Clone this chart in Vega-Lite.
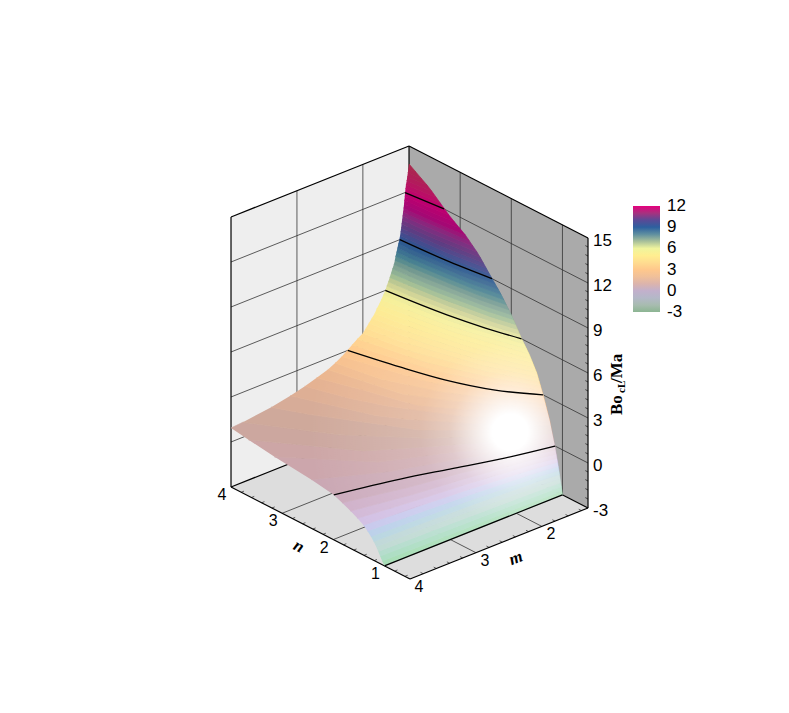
{"$schema":"https://vega.github.io/schema/vega-lite/v6.json","width":789,"height":713,"padding":0,"autosize":"none","background":"white","config":{"view":{"stroke":null}},
"datasets":{
"iso":[
{"l":-3,"s":0,"m":4,"n":1},{"l":-3,"s":1,"m":1.3,"n":1},
{"l":-2.75,"s":0,"m":4,"n":1.044},{"l":-2.75,"s":1,"m":3.2,"n":1.035},{"l":-2.75,"s":2,"m":2.5,"n":1.027},{"l":-2.75,"s":3,"m":2,"n":1.022},{"l":-2.75,"s":4,"m":1.58,"n":1.018},{"l":-2.75,"s":5,"m":1.3,"n":1.012},
{"l":-2.5,"s":0,"m":4,"n":1.085},{"l":-2.5,"s":1,"m":3.2,"n":1.07},{"l":-2.5,"s":2,"m":2.5,"n":1.054},{"l":-2.5,"s":3,"m":2,"n":1.044},{"l":-2.5,"s":4,"m":1.58,"n":1.035},{"l":-2.5,"s":5,"m":1.3,"n":1.023},
{"l":-2.25,"s":0,"m":4,"n":1.121},{"l":-2.25,"s":1,"m":3.2,"n":1.106},{"l":-2.25,"s":2,"m":2.5,"n":1.083},{"l":-2.25,"s":3,"m":2,"n":1.066},{"l":-2.25,"s":4,"m":1.58,"n":1.053},{"l":-2.25,"s":5,"m":1.3,"n":1.035},
{"l":-2,"s":0,"m":4,"n":1.16},{"l":-2,"s":1,"m":3.2,"n":1.143},{"l":-2,"s":2,"m":2.5,"n":1.117},{"l":-2,"s":3,"m":2,"n":1.091},{"l":-2,"s":4,"m":1.58,"n":1.07},{"l":-2,"s":5,"m":1.3,"n":1.046},
{"l":-1.75,"s":0,"m":4,"n":1.21},{"l":-1.75,"s":1,"m":3.2,"n":1.183},{"l":-1.75,"s":2,"m":2.5,"n":1.15},{"l":-1.75,"s":3,"m":2,"n":1.118},{"l":-1.75,"s":4,"m":1.58,"n":1.091},{"l":-1.75,"s":5,"m":1.3,"n":1.058},
{"l":-1.5,"s":0,"m":4,"n":1.264},{"l":-1.5,"s":1,"m":3.2,"n":1.225},{"l":-1.5,"s":2,"m":2.5,"n":1.188},{"l":-1.5,"s":3,"m":2,"n":1.145},{"l":-1.5,"s":4,"m":1.58,"n":1.112},{"l":-1.5,"s":5,"m":1.3,"n":1.07},
{"l":-1.25,"s":0,"m":4,"n":1.331},{"l":-1.25,"s":1,"m":3.2,"n":1.276},{"l":-1.25,"s":2,"m":2.5,"n":1.227},{"l":-1.25,"s":3,"m":2,"n":1.177},{"l":-1.25,"s":4,"m":1.58,"n":1.133},{"l":-1.25,"s":5,"m":1.3,"n":1.083},
{"l":-1,"s":0,"m":4,"n":1.411},{"l":-1,"s":1,"m":3.2,"n":1.341},{"l":-1,"s":2,"m":2.5,"n":1.272},{"l":-1,"s":3,"m":2,"n":1.21},{"l":-1,"s":4,"m":1.58,"n":1.155},{"l":-1,"s":5,"m":1.3,"n":1.096},
{"l":-0.75,"s":0,"m":4,"n":1.527},{"l":-0.75,"s":1,"m":3.2,"n":1.41},{"l":-0.75,"s":2,"m":2.5,"n":1.326},{"l":-0.75,"s":3,"m":2,"n":1.243},{"l":-0.75,"s":4,"m":1.58,"n":1.18},{"l":-0.75,"s":5,"m":1.3,"n":1.109},
{"l":-0.5,"s":0,"m":4,"n":1.663},{"l":-0.5,"s":1,"m":3.2,"n":1.485},{"l":-0.5,"s":2,"m":2.5,"n":1.38},{"l":-0.5,"s":3,"m":2,"n":1.283},{"l":-0.5,"s":4,"m":1.58,"n":1.205},{"l":-0.5,"s":5,"m":1.3,"n":1.122},
{"l":-0.25,"s":0,"m":4,"n":1.828},{"l":-0.25,"s":1,"m":3.2,"n":1.6},{"l":-0.25,"s":2,"m":2.5,"n":1.455},{"l":-0.25,"s":3,"m":2,"n":1.323},{"l":-0.25,"s":4,"m":1.58,"n":1.23},{"l":-0.25,"s":5,"m":1.3,"n":1.136},
{"l":0,"s":0,"m":4,"n":2},{"l":0,"s":1,"m":3.2,"n":1.763},{"l":0,"s":2,"m":2.5,"n":1.543},{"l":0,"s":3,"m":2,"n":1.364},{"l":0,"s":4,"m":1.58,"n":1.257},{"l":0,"s":5,"m":1.3,"n":1.149},
{"l":0.25,"s":0,"m":4,"n":2.425},{"l":0.25,"s":1,"m":3.2,"n":1.933},{"l":0.25,"s":2,"m":2.5,"n":1.65},{"l":0.25,"s":3,"m":2,"n":1.42},{"l":0.25,"s":4,"m":1.58,"n":1.293},{"l":0.25,"s":5,"m":1.3,"n":1.165},
{"l":0.5,"s":0,"m":4,"n":3.15},{"l":0.5,"s":1,"m":3.2,"n":2.15},{"l":0.5,"s":2,"m":2.5,"n":1.775},{"l":0.5,"s":3,"m":2,"n":1.487},{"l":0.5,"s":4,"m":1.58,"n":1.329},{"l":0.5,"s":5,"m":1.3,"n":1.182},
{"l":0.75,"s":0,"m":4,"n":3.657},{"l":0.75,"s":1,"m":3.2,"n":2.433},{"l":0.75,"s":2,"m":2.5,"n":1.914},{"l":0.75,"s":3,"m":2,"n":1.567},{"l":0.75,"s":4,"m":1.58,"n":1.366},{"l":0.75,"s":5,"m":1.3,"n":1.198},
{"l":1,"s":-1,"m":4,"n":4,"z":0.93},{"l":1,"s":0,"m":3.82,"n":4},{"l":1,"s":1,"m":3.2,"n":2.9},{"l":1,"s":2,"m":2.5,"n":2.067},{"l":1,"s":3,"m":2,"n":1.65},{"l":1,"s":4,"m":1.58,"n":1.408},{"l":1,"s":5,"m":1.3,"n":1.214},
{"l":1.25,"s":0,"m":3.39,"n":4},{"l":1.25,"s":1,"m":3.2,"n":3.547},{"l":1.25,"s":2,"m":2.5,"n":2.245},{"l":1.25,"s":3,"m":2,"n":1.744},{"l":1.25,"s":4,"m":1.58,"n":1.454},{"l":1.25,"s":5,"m":1.3,"n":1.231},
{"l":1.5,"s":0,"m":3.1,"n":4},{"l":1.5,"s":1,"m":2.7,"n":2.85},{"l":1.5,"s":2,"m":2.5,"n":2.51},{"l":1.5,"s":3,"m":2,"n":1.844},{"l":1.5,"s":4,"m":1.58,"n":1.5},{"l":1.5,"s":5,"m":1.3,"n":1.247},
{"l":1.75,"s":0,"m":2.88,"n":4},{"l":1.75,"s":1,"m":2.7,"n":3.365},{"l":1.75,"s":2,"m":2.5,"n":2.858},{"l":1.75,"s":3,"m":2,"n":1.956},{"l":1.75,"s":4,"m":1.58,"n":1.563},{"l":1.75,"s":5,"m":1.3,"n":1.269},
{"l":2,"s":0,"m":2.7,"n":4},{"l":2,"s":1,"m":2.5,"n":3.305},{"l":2,"s":2,"m":2.3,"n":2.55},{"l":2,"s":3,"m":2,"n":2.1},{"l":2,"s":4,"m":1.58,"n":1.625},{"l":2,"s":5,"m":1.3,"n":1.291},
{"l":2.25,"s":0,"m":2.53,"n":4},{"l":2.25,"s":1,"m":2.3,"n":2.84},{"l":2.25,"s":2,"m":2,"n":2.28},{"l":2.25,"s":3,"m":1.58,"n":1.687},{"l":2.25,"s":4,"m":1.3,"n":1.313},
{"l":2.5,"s":0,"m":2.42,"n":4},{"l":2.5,"s":1,"m":2.3,"n":3.267},{"l":2.5,"s":2,"m":2,"n":2.483},{"l":2.5,"s":3,"m":1.58,"n":1.75},{"l":2.5,"s":4,"m":1.3,"n":1.335},
{"l":2.75,"s":0,"m":2.32,"n":4},{"l":2.75,"s":1,"m":2,"n":2.7},{"l":2.75,"s":2,"m":1.58,"n":1.814},{"l":2.75,"s":3,"m":1.3,"n":1.358},
{"l":3,"s":0,"m":2.24,"n":4},{"l":3,"s":1,"m":2,"n":2.958},{"l":3,"s":2,"m":1.88,"n":2.517},{"l":3,"s":3,"m":1.58,"n":1.886},{"l":3,"s":4,"m":1.3,"n":1.38},
{"l":3.25,"s":0,"m":2.165,"n":4},{"l":3.25,"s":1,"m":2,"n":3.253},{"l":3.25,"s":2,"m":1.88,"n":2.712},{"l":3.25,"s":3,"m":1.58,"n":1.957},{"l":3.25,"s":4,"m":1.3,"n":1.405},
{"l":3.5,"s":0,"m":2.085,"n":4},{"l":3.5,"s":1,"m":2,"n":3.587},{"l":3.5,"s":2,"m":1.88,"n":2.91},{"l":3.5,"s":3,"m":1.58,"n":2.034},{"l":3.5,"s":4,"m":1.3,"n":1.429},
{"l":3.75,"s":0,"m":2,"n":4},{"l":3.75,"s":1,"m":1.88,"n":3.15},{"l":3.75,"s":2,"m":1.58,"n":2.121},{"l":3.75,"s":3,"m":1.3,"n":1.454},
{"l":4,"s":0,"m":1.955,"n":4},{"l":4,"s":1,"m":1.88,"n":3.44},{"l":4,"s":2,"m":1.58,"n":2.208},{"l":4,"s":3,"m":1.3,"n":1.478},
{"l":4.25,"s":0,"m":1.91,"n":4},{"l":4.25,"s":1,"m":1.76,"n":3.054},{"l":4.25,"s":2,"m":1.58,"n":2.302},{"l":4.25,"s":3,"m":1.3,"n":1.504},
{"l":4.5,"s":0,"m":1.865,"n":4},{"l":4.5,"s":1,"m":1.76,"n":3.257},{"l":4.5,"s":2,"m":1.58,"n":2.396},{"l":4.5,"s":3,"m":1.3,"n":1.542},
{"l":4.75,"s":0,"m":1.82,"n":4},{"l":4.75,"s":1,"m":1.76,"n":3.495},{"l":4.75,"s":2,"m":1.58,"n":2.509},{"l":4.75,"s":3,"m":1.3,"n":1.579},
{"l":5,"s":0,"m":1.79,"n":4},{"l":5,"s":1,"m":1.66,"n":3.086},{"l":5,"s":2,"m":1.58,"n":2.623},{"l":5,"s":3,"m":1.3,"n":1.616},
{"l":5.25,"s":0,"m":1.754,"n":4},{"l":5.25,"s":1,"m":1.66,"n":3.278},{"l":5.25,"s":2,"m":1.58,"n":2.756},{"l":5.25,"s":3,"m":1.3,"n":1.654},
{"l":5.5,"s":0,"m":1.72,"n":4},{"l":5.5,"s":1,"m":1.66,"n":3.496},{"l":5.5,"s":2,"m":1.58,"n":2.894},{"l":5.5,"s":3,"m":1.5,"n":2.519},{"l":5.5,"s":4,"m":1.3,"n":1.703},
{"l":5.75,"s":0,"m":1.69,"n":4},{"l":5.75,"s":1,"m":1.58,"n":3.053},{"l":5.75,"s":2,"m":1.5,"n":2.615},{"l":5.75,"s":3,"m":1.3,"n":1.751},
{"l":6,"s":0,"m":1.66,"n":4},{"l":6,"s":1,"m":1.58,"n":3.216},{"l":6,"s":2,"m":1.5,"n":2.723},{"l":6,"s":3,"m":1.3,"n":1.8},
{"l":6.25,"s":0,"m":1.638,"n":4},{"l":6.25,"s":1,"m":1.58,"n":3.416},{"l":6.25,"s":2,"m":1.5,"n":2.836},{"l":6.25,"s":3,"m":1.38,"n":2.153},{"l":6.25,"s":4,"m":1.3,"n":1.84},
{"l":6.5,"s":0,"m":1.615,"n":4},{"l":6.5,"s":1,"m":1.58,"n":3.62},{"l":6.5,"s":2,"m":1.5,"n":2.958},{"l":6.5,"s":3,"m":1.38,"n":2.214},{"l":6.5,"s":4,"m":1.3,"n":1.88},
{"l":6.75,"s":0,"m":1.593,"n":4},{"l":6.75,"s":1,"m":1.5,"n":3.09},{"l":6.75,"s":2,"m":1.38,"n":2.286},{"l":6.75,"s":3,"m":1.3,"n":1.92},
{"l":7,"s":0,"m":1.573,"n":4},{"l":7,"s":1,"m":1.5,"n":3.226},{"l":7,"s":2,"m":1.38,"n":2.357},{"l":7,"s":3,"m":1.3,"n":1.96},
{"l":7.25,"s":0,"m":1.552,"n":4},{"l":7.25,"s":1,"m":1.5,"n":3.387},{"l":7.25,"s":2,"m":1.38,"n":2.427},{"l":7.25,"s":3,"m":1.3,"n":2},
{"l":7.5,"s":0,"m":1.53,"n":4},{"l":7.5,"s":1,"m":1.5,"n":3.548},{"l":7.5,"s":2,"m":1.38,"n":2.495},{"l":7.5,"s":3,"m":1.3,"n":2.05},
{"l":7.75,"s":0,"m":1.515,"n":4},{"l":7.75,"s":1,"m":1.43,"n":3.024},{"l":7.75,"s":2,"m":1.38,"n":2.563},{"l":7.75,"s":3,"m":1.3,"n":2.1},
{"l":8,"s":0,"m":1.505,"n":4},{"l":8,"s":1,"m":1.43,"n":3.143},{"l":8,"s":2,"m":1.38,"n":2.631},{"l":8,"s":3,"m":1.3,"n":2.149},
{"l":8.25,"s":0,"m":1.49,"n":4},{"l":8.25,"s":1,"m":1.43,"n":3.274},{"l":8.25,"s":2,"m":1.38,"n":2.708},{"l":8.25,"s":3,"m":1.3,"n":2.2},
{"l":8.5,"s":0,"m":1.476,"n":4},{"l":8.5,"s":1,"m":1.43,"n":3.417},{"l":8.5,"s":2,"m":1.38,"n":2.79},{"l":8.5,"s":3,"m":1.3,"n":2.257},
{"l":8.75,"s":0,"m":1.463,"n":4},{"l":8.75,"s":1,"m":1.43,"n":3.56},{"l":8.75,"s":2,"m":1.38,"n":2.871},{"l":8.75,"s":3,"m":1.3,"n":2.317},
{"l":9,"s":0,"m":1.449,"n":4},{"l":9,"s":1,"m":1.38,"n":2.968},{"l":9,"s":2,"m":1.3,"n":2.376},
{"l":9.25,"s":0,"m":1.436,"n":4},{"l":9.25,"s":1,"m":1.38,"n":3.073},{"l":9.25,"s":2,"m":1.3,"n":2.434},
{"l":9.5,"s":0,"m":1.427,"n":4},{"l":9.5,"s":1,"m":1.38,"n":3.179},{"l":9.5,"s":2,"m":1.3,"n":2.492},
{"l":9.75,"s":0,"m":1.42,"n":4},{"l":9.75,"s":1,"m":1.38,"n":3.294},{"l":9.75,"s":2,"m":1.3,"n":2.549},
{"l":10,"s":0,"m":1.412,"n":4},{"l":10,"s":1,"m":1.38,"n":3.412},{"l":10,"s":2,"m":1.3,"n":2.606},
{"l":10.25,"s":0,"m":1.405,"n":4},{"l":10.25,"s":1,"m":1.38,"n":3.529},{"l":10.25,"s":2,"m":1.3,"n":2.669},
{"l":10.5,"s":0,"m":1.397,"n":4},{"l":10.5,"s":1,"m":1.38,"n":3.657},{"l":10.5,"s":2,"m":1.3,"n":2.746},
{"l":10.75,"s":0,"m":1.39,"n":4},{"l":10.75,"s":1,"m":1.38,"n":3.8},{"l":10.75,"s":2,"m":1.3,"n":2.823},
{"l":11,"s":0,"m":1.382,"n":4},{"l":11,"s":1,"m":1.34,"n":3.278},{"l":11,"s":2,"m":1.3,"n":2.9},
{"l":11.25,"s":0,"m":1.376,"n":4},{"l":11.25,"s":1,"m":1.34,"n":3.376},{"l":11.25,"s":2,"m":1.3,"n":3.007},
{"l":11.5,"s":0,"m":1.371,"n":4},{"l":11.5,"s":1,"m":1.34,"n":3.475},{"l":11.5,"s":2,"m":1.3,"n":3.114},
{"l":11.75,"s":0,"m":1.364,"n":4},{"l":11.75,"s":1,"m":1.34,"n":3.573},{"l":11.75,"s":2,"m":1.3,"n":3.217},
{"l":12,"s":0,"m":1.36,"n":4},{"l":12,"s":1,"m":1.34,"n":3.692},{"l":12,"s":2,"m":1.3,"n":3.3},
{"l":12.25,"s":0,"m":1.353,"n":4},{"l":12.25,"s":1,"m":1.3,"n":3.383},
{"l":12.5,"s":0,"m":1.347,"n":4},{"l":12.5,"s":1,"m":1.3,"n":3.467},
{"l":12.75,"s":0,"m":1.335,"n":4},{"l":12.75,"s":1,"m":1.3,"n":3.55},
{"l":13,"s":0,"m":1.327,"n":4},{"l":13,"s":1,"m":1.3,"n":3.644},
{"l":13.25,"s":0,"m":1.318,"n":4},{"l":13.25,"s":1,"m":1.3,"n":3.756},
{"l":13.5,"s":0,"m":1.31,"n":4},{"l":13.5,"s":1,"m":1.3,"n":3.867},
{"l":13.75,"s":0,"m":1.302,"n":4},{"l":13.75,"s":1,"m":1.3,"n":3.978},
{"l":14,"s":0,"m":1.3,"n":4,"z":13.8}
],
"edge":[
{"m":1.3,"n":1,"z":-3},{"m":4,"n":1,"z":-3},
{"m":4,"n":1.07,"z":-2.6},{"m":4,"n":1.15,"z":-2.05},{"m":4,"n":1.25,"z":-1.55},{"m":4,"n":1.38,"z":-1.07},{"m":4,"n":1.5,"z":-0.8},{"m":4,"n":1.65,"z":-0.52},{"m":4,"n":1.8,"z":-0.29},{"m":4,"n":2,"z":0},{"m":4,"n":2.2,"z":0.14},{"m":4,"n":2.4,"z":0.24},{"m":4,"n":2.65,"z":0.34},{"m":4,"n":2.9,"z":0.4},{"m":4,"n":3.2,"z":0.52},{"m":4,"n":3.6,"z":0.72},{"m":4,"n":4,"z":0.93},
{"m":3.7,"n":4,"z":1.05},{"m":3.45,"n":4,"z":1.2},{"m":3.2,"n":4,"z":1.4},{"m":2.95,"n":4,"z":1.65},{"m":2.7,"n":4,"z":2},{"m":2.5,"n":4,"z":2.3},{"m":2.3,"n":4,"z":2.8},{"m":2.15,"n":4,"z":3.3},{"m":2,"n":4,"z":3.76},{"m":1.88,"n":4,"z":4.4},{"m":1.76,"n":4,"z":5.2},{"m":1.66,"n":4,"z":6},{"m":1.58,"n":4,"z":6.9},{"m":1.5,"n":4,"z":8.1},{"m":1.43,"n":4,"z":9.4},{"m":1.38,"n":4,"z":11.1},{"m":1.34,"n":4,"z":12.6},{"m":1.3,"n":4,"z":13.8},
{"m":1.3,"n":3.6,"z":12.9},{"m":1.3,"n":3.2,"z":11.7},{"m":1.3,"n":2.9,"z":11},{"m":1.3,"n":2.65,"z":10.19},{"m":1.3,"n":2.4,"z":9.1},{"m":1.3,"n":2.2,"z":8.26},{"m":1.3,"n":2,"z":7.25},{"m":1.3,"n":1.8,"z":6},{"m":1.3,"n":1.65,"z":5.23},{"m":1.3,"n":1.5,"z":4.22},{"m":1.3,"n":1.38,"z":3},{"m":1.3,"n":1.25,"z":1.54},{"m":1.3,"n":1.15,"z":0.02},{"m":1.3,"n":1.07,"z":-1.49}
],
"walls":[
{"w":"L","o":0,"m":1.3,"n":4,"z":-3},{"w":"L","o":1,"m":4,"n":4,"z":-3},{"w":"L","o":2,"m":4,"n":4,"z":15},{"w":"L","o":3,"m":1.3,"n":4,"z":15},
{"w":"R","o":0,"m":1.3,"n":0.5,"z":-3},{"w":"R","o":1,"m":1.3,"n":4,"z":-3},{"w":"R","o":2,"m":1.3,"n":4,"z":15},{"w":"R","o":3,"m":1.3,"n":0.5,"z":15},
{"w":"F","o":0,"m":1.3,"n":0.5,"z":-3},{"w":"F","o":1,"m":4,"n":0.5,"z":-3},{"w":"F","o":2,"m":4,"n":4,"z":-3},{"w":"F","o":3,"m":1.3,"n":4,"z":-3}
],
"grid":[
{"g":"L0","m":1.3,"n":4,"z":0},{"g":"L0","m":4,"n":4,"z":0},{"g":"L3","m":1.3,"n":4,"z":3},{"g":"L3","m":4,"n":4,"z":3},{"g":"L6","m":1.3,"n":4,"z":6},{"g":"L6","m":4,"n":4,"z":6},{"g":"L9","m":1.3,"n":4,"z":9},{"g":"L9","m":4,"n":4,"z":9},{"g":"L12","m":1.3,"n":4,"z":12},{"g":"L12","m":4,"n":4,"z":12},
{"g":"Lm2","m":2,"n":4,"z":-3},{"g":"Lm2","m":2,"n":4,"z":15},{"g":"Lm3","m":3,"n":4,"z":-3},{"g":"Lm3","m":3,"n":4,"z":15},
{"g":"R0","m":1.3,"n":0.5,"z":0},{"g":"R0","m":1.3,"n":4,"z":0},{"g":"R3","m":1.3,"n":0.5,"z":3},{"g":"R3","m":1.3,"n":4,"z":3},{"g":"R6","m":1.3,"n":0.5,"z":6},{"g":"R6","m":1.3,"n":4,"z":6},{"g":"R9","m":1.3,"n":0.5,"z":9},{"g":"R9","m":1.3,"n":4,"z":9},{"g":"R12","m":1.3,"n":0.5,"z":12},{"g":"R12","m":1.3,"n":4,"z":12},
{"g":"Rn1","m":1.3,"n":1,"z":-3},{"g":"Rn1","m":1.3,"n":1,"z":15},{"g":"Rn2","m":1.3,"n":2,"z":-3},{"g":"Rn2","m":1.3,"n":2,"z":15},{"g":"Rn3","m":1.3,"n":3,"z":-3},{"g":"Rn3","m":1.3,"n":3,"z":15},
{"g":"Fm2","m":2,"n":0.5,"z":-3},{"g":"Fm2","m":2,"n":4,"z":-3},{"g":"Fm3","m":3,"n":0.5,"z":-3},{"g":"Fm3","m":3,"n":4,"z":-3},{"g":"Fn2","m":1.3,"n":2,"z":-3},{"g":"Fn2","m":4,"n":2,"z":-3},{"g":"Fn3","m":1.3,"n":3,"z":-3},{"g":"Fn3","m":4,"n":3,"z":-3}
],
"frame":[
{"g":"V1","m":4,"n":4,"z":-3},{"g":"V1","m":4,"n":4,"z":15},{"g":"V2","m":1.3,"n":4,"z":-3},{"g":"V2","m":1.3,"n":4,"z":15},{"g":"V3","m":1.3,"n":0.5,"z":-3},{"g":"V3","m":1.3,"n":0.5,"z":15},
{"g":"T1","m":4,"n":4,"z":15},{"g":"T1","m":1.3,"n":4,"z":15},{"g":"T2","m":1.3,"n":4,"z":15},{"g":"T2","m":1.3,"n":0.5,"z":15},
{"g":"B1","m":4,"n":4,"z":-3},{"g":"B1","m":4,"n":0.5,"z":-3},{"g":"B2","m":4,"n":0.5,"z":-3},{"g":"B2","m":1.3,"n":0.5,"z":-3},{"g":"B3","m":4,"n":4,"z":-3},{"g":"B3","m":1.3,"n":4,"z":-3},{"g":"B4","m":1.3,"n":4,"z":-3},{"g":"B4","m":1.3,"n":0.5,"z":-3}
],
"contours":[
{"l":0,"s":0,"m":4,"n":1.99,"z":0},{"l":0,"s":1,"m":3.17,"n":1.76,"z":0},{"l":0,"s":2,"m":2.58,"n":1.55,"z":0},{"l":0,"s":3,"m":1.99,"n":1.336,"z":0},{"l":0,"s":4,"m":1.3,"n":1.145,"z":0},
{"l":3,"s":0,"m":2.23,"n":4,"z":3},{"l":3,"s":1,"m":2.06,"n":3.2,"z":3},{"l":3,"s":2,"m":1.89,"n":2.54,"z":3},{"l":3,"s":3,"m":1.63,"n":1.89,"z":3},{"l":3,"s":4,"m":1.3,"n":1.38,"z":3},
{"l":6,"s":0,"m":1.66,"n":4,"z":6},{"l":6,"s":1,"m":1.54,"n":2.95,"z":6},{"l":6,"s":2,"m":1.43,"n":2.34,"z":6},{"l":6,"s":3,"m":1.3,"n":1.8,"z":6},
{"l":9,"s":0,"m":1.44,"n":4,"z":9},{"l":9,"s":1,"m":1.39,"n":3.18,"z":9},{"l":9,"s":2,"m":1.3,"n":2.377,"z":9},
{"l":12,"s":0,"m":1.36,"n":4,"z":12},{"l":12,"s":1,"m":1.3,"n":3.316,"z":12}
],
"bottom":[{"m":1.3,"n":1,"z":-3},{"m":4,"n":1,"z":-3}],
"ticks":[
{"a":"z","m":1.3,"n":0.5,"z":-2.4},{"a":"z","m":1.3,"n":0.5,"z":-1.8},{"a":"z","m":1.3,"n":0.5,"z":-1.2},{"a":"z","m":1.3,"n":0.5,"z":-0.6},{"a":"z","m":1.3,"n":0.5,"z":0.6},{"a":"z","m":1.3,"n":0.5,"z":1.2},{"a":"z","m":1.3,"n":0.5,"z":1.8},{"a":"z","m":1.3,"n":0.5,"z":2.4},{"a":"z","m":1.3,"n":0.5,"z":3.6},{"a":"z","m":1.3,"n":0.5,"z":4.2},{"a":"z","m":1.3,"n":0.5,"z":4.8},{"a":"z","m":1.3,"n":0.5,"z":5.4},{"a":"z","m":1.3,"n":0.5,"z":6.6},{"a":"z","m":1.3,"n":0.5,"z":7.2},{"a":"z","m":1.3,"n":0.5,"z":7.8},{"a":"z","m":1.3,"n":0.5,"z":8.4},{"a":"z","m":1.3,"n":0.5,"z":9.6},{"a":"z","m":1.3,"n":0.5,"z":10.2},{"a":"z","m":1.3,"n":0.5,"z":10.8},{"a":"z","m":1.3,"n":0.5,"z":11.4},{"a":"z","m":1.3,"n":0.5,"z":12.6},{"a":"z","m":1.3,"n":0.5,"z":13.2},{"a":"z","m":1.3,"n":0.5,"z":13.8},{"a":"z","m":1.3,"n":0.5,"z":14.4},
{"a":"m","m":1.4,"n":0.5,"z":-3},{"a":"m","m":1.6,"n":0.5,"z":-3},{"a":"m","m":1.8,"n":0.5,"z":-3},{"a":"m","m":2.2,"n":0.5,"z":-3},{"a":"m","m":2.4,"n":0.5,"z":-3},{"a":"m","m":2.6,"n":0.5,"z":-3},{"a":"m","m":2.8,"n":0.5,"z":-3},{"a":"m","m":3.2,"n":0.5,"z":-3},{"a":"m","m":3.4,"n":0.5,"z":-3},{"a":"m","m":3.6,"n":0.5,"z":-3},{"a":"m","m":3.8,"n":0.5,"z":-3},
{"a":"n","m":4,"n":0.6,"z":-3},{"a":"n","m":4,"n":0.8,"z":-3},{"a":"n","m":4,"n":1.2,"z":-3},{"a":"n","m":4,"n":1.4,"z":-3},{"a":"n","m":4,"n":1.6,"z":-3},{"a":"n","m":4,"n":1.8,"z":-3},{"a":"n","m":4,"n":2.2,"z":-3},{"a":"n","m":4,"n":2.4,"z":-3},{"a":"n","m":4,"n":2.6,"z":-3},{"a":"n","m":4,"n":2.8,"z":-3},{"a":"n","m":4,"n":3.2,"z":-3},{"a":"n","m":4,"n":3.4,"z":-3},{"a":"n","m":4,"n":3.6,"z":-3},{"a":"n","m":4,"n":3.8,"z":-3}
]
},
"layer":[
{"data":{"name":"walls"},"transform":[{"calculate":"410-(datum.n-0.5)*51.14-(datum.m-4)*65.93","as":"sx"},{"calculate":"579-(datum.n-0.5)*26.29+(datum.m-4)*26.3-15*(datum.z+3)","as":"sy"}],
"mark":{"type":"line","strokeWidth":0},
"encoding":{"x":{"field":"sx","type":"quantitative","scale":{"domain":[0,789],"nice":false,"zero":false},"axis":null},"y":{"field":"sy","type":"quantitative","scale":{"domain":[713,0],"nice":false,"zero":false},"axis":null},"order":{"field":"o"},"detail":{"field":"w"},"fill":{"field":"w","type":"nominal","scale":{"domain":["L","R","F"],"range":["#eeeeee","#aaaaaa","#dddddd"]},"legend":null}}},
{"data":{"name":"grid"},"transform":[{"calculate":"410-(datum.n-0.5)*51.14-(datum.m-4)*65.93","as":"sx"},{"calculate":"579-(datum.n-0.5)*26.29+(datum.m-4)*26.3-15*(datum.z+3)","as":"sy"}],
"mark":{"type":"line","stroke":"#333333","strokeWidth":0.8},
"encoding":{"x":{"field":"sx","type":"quantitative"},"y":{"field":"sy","type":"quantitative"},"detail":{"field":"g"}}},
{"data":{"name":"frame"},"transform":[{"calculate":"410-(datum.n-0.5)*51.14-(datum.m-4)*65.93","as":"sx"},{"calculate":"579-(datum.n-0.5)*26.29+(datum.m-4)*26.3-15*(datum.z+3)","as":"sy"}],
"mark":{"type":"line","stroke":"#000000","strokeWidth":1.2},
"encoding":{"x":{"field":"sx","type":"quantitative"},"y":{"field":"sy","type":"quantitative"},"detail":{"field":"g"}}},
{"data":{"name":"iso"},"transform":[
{"calculate":"[0,1]","as":"c"},{"flatten":["c"]},
{"filter":"(datum.c==0&&datum.l<14&&datum.s>=0)||(datum.c==1&&datum.l>-3)"},
{"calculate":"datum.c==0?datum.l:datum.l-0.25","as":"b"},
{"calculate":"datum.c==0?datum.s:100-datum.s","as":"o"},
{"calculate":"datum.b+0.125","as":"zc"},
{"calculate":"isValid(datum.z)?datum.z:datum.l","as":"zz"},
{"calculate":"410-(datum.n-0.5)*51.14-(datum.m-4)*65.93","as":"sx"},{"calculate":"579-(datum.n-0.5)*26.29+(datum.m-4)*26.3-15*(datum.zz+3)","as":"sy"}],
"mark":{"type":"line","strokeWidth":0.7,"strokeJoin":"round"},
"encoding":{"x":{"field":"sx","type":"quantitative"},"y":{"field":"sy","type":"quantitative"},"order":{"field":"o"},"detail":{"field":"b"},
"fill":{"field":"zc","type":"quantitative","legend":null,"scale":{"domain":[-3,-2,-1,0,1,2,3,4,5,5.8,6.5,7.5,8.5,9,10,11,12,13,14],"range":["#a4dcac","#c4d8d4","#d0c2ea","#c8a7b6","#cba89c","#e8b490","#ffc78a","#ffe090","#fdeb90","#f4f098","#c8cc90","#7c9c90","#3d6a90","#2c5590","#63397f","#a00a74","#c0006f","#b01d58","#a82c48"]}},
"stroke":{"field":"zc","type":"quantitative","legend":null,"scale":{"domain":[-3,-2,-1,0,1,2,3,4,5,5.8,6.5,7.5,8.5,9,10,11,12,13,14],"range":["#a4dcac","#c4d8d4","#d0c2ea","#c8a7b6","#cba89c","#e8b490","#ffc78a","#ffe090","#fdeb90","#f4f098","#c8cc90","#7c9c90","#3d6a90","#2c5590","#63397f","#a00a74","#c0006f","#b01d58","#a82c48"]}}}},
{"data":{"name":"edge"},"transform":[
{"calculate":"datum.n==1?datum.m:(datum.m==4?4+datum.n:(datum.n==4?14-datum.m:20-datum.n))","as":"p"},
{"calculate":"410-(datum.n-0.5)*51.14-(datum.m-4)*65.93","as":"sx"},{"calculate":"579-(datum.n-0.5)*26.29+(datum.m-4)*26.3-15*(datum.z+3)","as":"sy"}],
"mark":{"type":"line","strokeWidth":0,"fill":{"gradient":"radial","x1":0.782,"y1":0.667,"r1":0,"x2":0.782,"y2":0.667,"r2":0.5,"stops":[{"offset":0,"color":"rgba(255,255,255,1)"},{"offset":0.09,"color":"rgba(255,255,255,1)"},{"offset":0.18,"color":"rgba(255,255,255,0.75)"},{"offset":0.3,"color":"rgba(255,255,255,0.4)"},{"offset":0.45,"color":"rgba(255,255,255,0.2)"},{"offset":0.7,"color":"rgba(255,255,255,0.1)"},{"offset":1,"color":"rgba(255,255,255,0)"}]}},
"encoding":{"x":{"field":"sx","type":"quantitative"},"y":{"field":"sy","type":"quantitative"},"order":{"field":"p"}}},
{"data":{"name":"contours"},"transform":[{"calculate":"410-(datum.n-0.5)*51.14-(datum.m-4)*65.93","as":"sx"},{"calculate":"579-(datum.n-0.5)*26.29+(datum.m-4)*26.3-15*(datum.z+3)","as":"sy"}],
"mark":{"type":"line","stroke":"#000000","strokeWidth":1.3,"interpolate":"monotone"},
"encoding":{"x":{"field":"sx","type":"quantitative"},"y":{"field":"sy","type":"quantitative"},"order":{"field":"s"},"detail":{"field":"l"}}},
{"data":{"name":"bottom"},"transform":[{"calculate":"410-(datum.n-0.5)*51.14-(datum.m-4)*65.93","as":"sx"},{"calculate":"579-(datum.n-0.5)*26.29+(datum.m-4)*26.3-15*(datum.z+3)","as":"sy"}],
"mark":{"type":"line","stroke":"#000000","strokeWidth":1.2},
"encoding":{"x":{"field":"sx","type":"quantitative"},"y":{"field":"sy","type":"quantitative"}}},
{"data":{"name":"ticks"},"transform":[{"calculate":"410-(datum.n-0.5)*51.14-(datum.m-4)*65.93","as":"sx"},{"calculate":"579-(datum.n-0.5)*26.29+(datum.m-4)*26.3-15*(datum.z+3)","as":"sy"}],
"mark":{"type":"point","filled":false,"stroke":"#000000","strokeWidth":0.6,"size":36,"opacity":1},
"encoding":{"x":{"field":"sx","type":"quantitative"},"y":{"field":"sy","type":"quantitative"},"shape":{"field":"a","type":"nominal","legend":null,"scale":{"domain":["z","m","n"],"range":["M0,0L-0.89,-0.46","M0,0L-0.89,-0.46","M0,0L0.93,-0.37"]}}}},
{"data":{"values":[{"t":"-3","m":1.3,"n":0.5,"z":-3},{"t":"0","m":1.3,"n":0.5,"z":0},{"t":"3","m":1.3,"n":0.5,"z":3},{"t":"6","m":1.3,"n":0.5,"z":6},{"t":"9","m":1.3,"n":0.5,"z":9},{"t":"12","m":1.3,"n":0.5,"z":12},{"t":"15","m":1.3,"n":0.5,"z":15}]},"transform":[{"calculate":"410-(datum.n-0.5)*51.14-(datum.m-4)*65.93","as":"sx"},{"calculate":"579-(datum.n-0.5)*26.29+(datum.m-4)*26.3-15*(datum.z+3)","as":"sy"}],
"mark":{"type":"text","font":"Liberation Sans","fontSize":17,"align":"left","baseline":"middle","dx":5,"dy":3,"color":"#000000"},
"encoding":{"x":{"field":"sx","type":"quantitative"},"y":{"field":"sy","type":"quantitative"},"text":{"field":"t"}}},
{"data":{"values":[{"t":"1","m":4,"n":1,"z":-3},{"t":"2","m":4,"n":2,"z":-3},{"t":"3","m":4,"n":3,"z":-3},{"t":"4","m":4,"n":4,"z":-3}]},"transform":[{"calculate":"410-(datum.n-0.5)*51.14-(datum.m-4)*65.93","as":"sx"},{"calculate":"579-(datum.n-0.5)*26.29+(datum.m-4)*26.3-15*(datum.z+3)","as":"sy"}],
"mark":{"type":"text","font":"Liberation Sans","fontSize":16,"align":"center","baseline":"middle","dx":-9,"dy":8,"color":"#000000"},
"encoding":{"x":{"field":"sx","type":"quantitative"},"y":{"field":"sy","type":"quantitative"},"text":{"field":"t"}}},
{"data":{"values":[{"t":"2","m":2,"n":0.5,"z":-3},{"t":"3","m":3,"n":0.5,"z":-3},{"t":"4","m":4,"n":0.5,"z":-3}]},"transform":[{"calculate":"410-(datum.n-0.5)*51.14-(datum.m-4)*65.93","as":"sx"},{"calculate":"579-(datum.n-0.5)*26.29+(datum.m-4)*26.3-15*(datum.z+3)","as":"sy"}],
"mark":{"type":"text","font":"Liberation Sans","fontSize":16,"align":"center","baseline":"middle","dx":9,"dy":8,"color":"#000000"},
"encoding":{"x":{"field":"sx","type":"quantitative"},"y":{"field":"sy","type":"quantitative"},"text":{"field":"t"}}},
{"data":{"values":[{"t":"n","m":4,"n":2.67,"z":-3}]},"transform":[{"calculate":"410-(datum.n-0.5)*51.14-(datum.m-4)*65.93","as":"sx"},{"calculate":"579-(datum.n-0.5)*26.29+(datum.m-4)*26.3-15*(datum.z+3)","as":"sy"}],
"mark":{"type":"text","font":"Liberation Serif","fontSize":17,"fontStyle":"italic","fontWeight":"bold","align":"center","baseline":"middle","angle":27,"dx":11,"dy":22,"color":"#000000"},
"encoding":{"x":{"field":"sx","type":"quantitative"},"y":{"field":"sy","type":"quantitative"},"text":{"field":"t"}}},
{"data":{"values":[{"t":"m","m":2.39,"n":0.5,"z":-3}]},"transform":[{"calculate":"410-(datum.n-0.5)*51.14-(datum.m-4)*65.93","as":"sx"},{"calculate":"579-(datum.n-0.5)*26.29+(datum.m-4)*26.3-15*(datum.z+3)","as":"sy"}],
"mark":{"type":"text","font":"Liberation Serif","fontSize":17,"fontStyle":"italic","fontWeight":"bold","align":"center","baseline":"middle","angle":-21,"dx":-8,"dy":20,"color":"#000000"},
"encoding":{"x":{"field":"sx","type":"quantitative"},"y":{"field":"sy","type":"quantitative"},"text":{"field":"t"}}},
{"data":{"values":[{"t":"Bo","m":1.3,"n":0.5,"z":3.2},{"t":"/Ma","m":1.3,"n":0.5,"z":5.33}]},"transform":[{"calculate":"410-(datum.n-0.5)*51.14-(datum.m-4)*65.93","as":"sx"},{"calculate":"579-(datum.n-0.5)*26.29+(datum.m-4)*26.3-15*(datum.z+3)","as":"sy"}],
"mark":{"type":"text","font":"Liberation Serif","fontSize":17,"fontWeight":"bold","align":"left","baseline":"middle","angle":-90,"dy":29,"color":"#000000"},
"encoding":{"x":{"field":"sx","type":"quantitative"},"y":{"field":"sy","type":"quantitative"},"text":{"field":"t"}}},
{"data":{"values":[{"t":"cL","m":1.3,"n":0.5,"z":4.67}]},"transform":[{"calculate":"410-(datum.n-0.5)*51.14-(datum.m-4)*65.93","as":"sx"},{"calculate":"579-(datum.n-0.5)*26.29+(datum.m-4)*26.3-15*(datum.z+3)","as":"sy"}],
"mark":{"type":"text","font":"Liberation Serif","fontSize":11,"fontWeight":"bold","align":"left","baseline":"middle","angle":-90,"dy":34,"color":"#000000"},
"encoding":{"x":{"field":"sx","type":"quantitative"},"y":{"field":"sy","type":"quantitative"},"text":{"field":"t"}}},
{"data":{"values":[{"v":-3,"px":0,"py":0},{"v":12,"px":0,"py":0}]},
"mark":{"type":"point","opacity":0,"filled":true},
"encoding":{"x":{"field":"px","type":"quantitative"},"y":{"field":"py","type":"quantitative"},
"fill":{"field":"v","type":"quantitative","scale":{"domain":[-3,-2,-1,0,1,2,3,4,5,5.8,6.2,7,8,9,10,11,12],"range":["#8cb592","#a8bcb0","#b4b8c8","#c2b0cc","#dcb4ac","#f0c09a","#ffc88c","#ffdc90","#ffee90","#ffff99","#e0e8a0","#a8c09a","#5f8fa0","#2d609f","#5a4a96","#a8317f","#e5007d"]},
"legend":{"orient":"none","legendX":633,"legendY":206,"gradientLength":106,"gradientThickness":27,"values":[-3,0,3,6,9,12],"title":null,"labelFont":"Liberation Sans","labelFontSize":17,"labelOffset":7,"labelColor":"#000000","labelOverlap":false,"labelExpr":"''+datum.value","gradientStrokeWidth":0,"direction":"vertical","encode":{"labels":{"update":{"baseline":{"value":"middle"}}}}}}}}
],
"resolve":{"scale":{"fill":"independent","stroke":"independent","shape":"independent"}}
}
